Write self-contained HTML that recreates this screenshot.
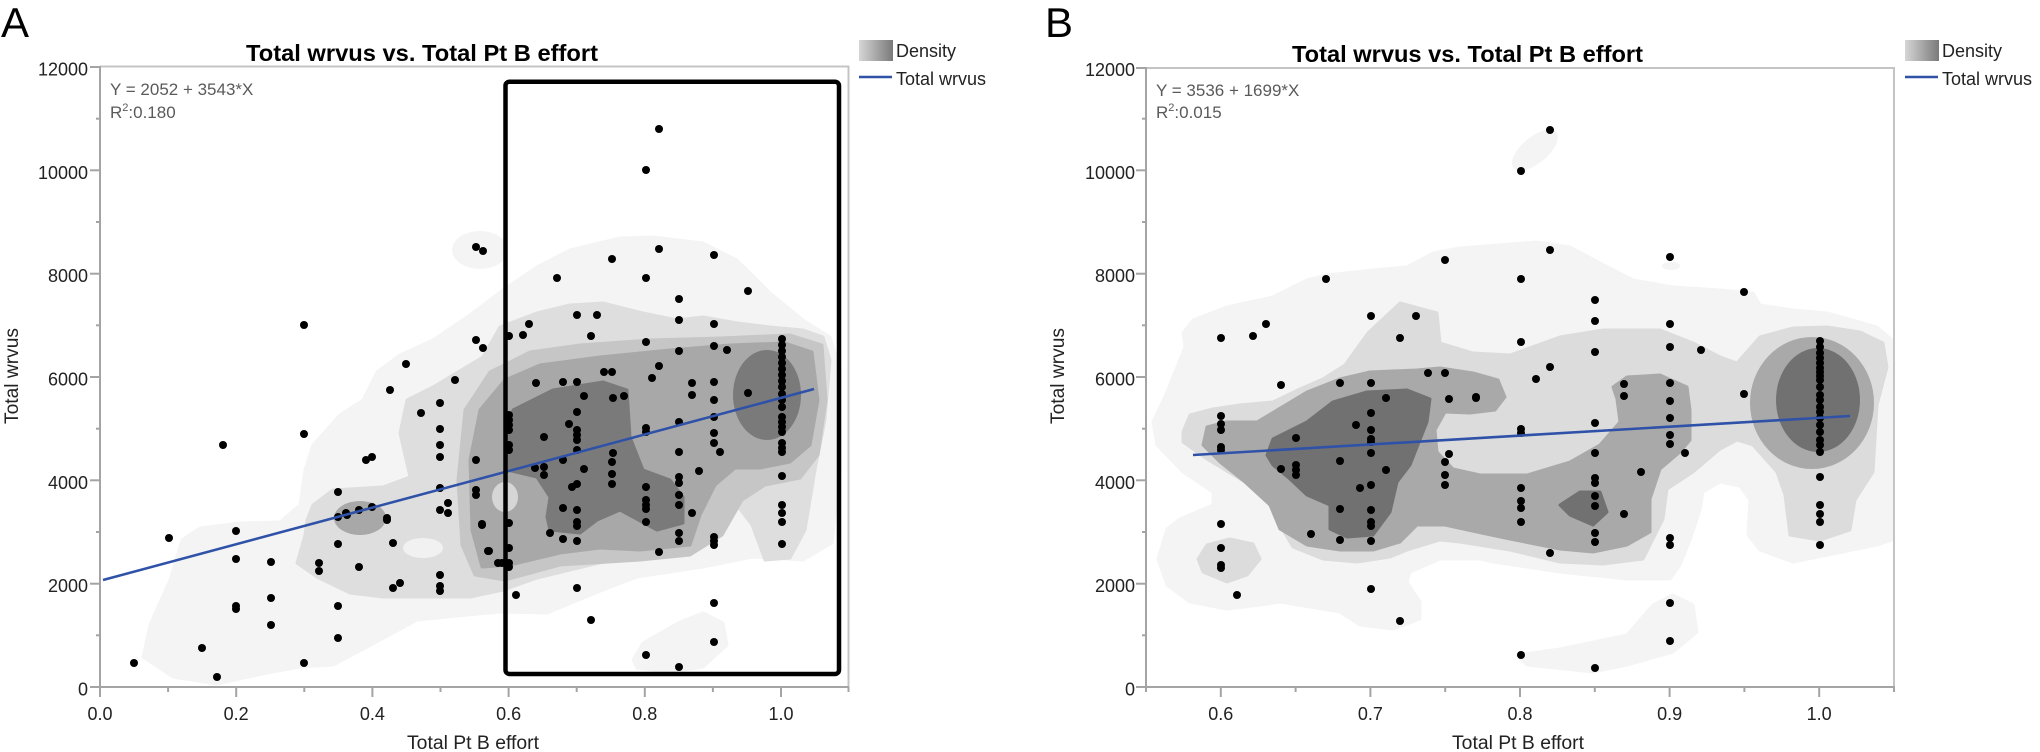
<!DOCTYPE html>
<html><head><meta charset="utf-8"><style>
html,body{margin:0;padding:0;background:#fff;}
svg{display:block;}
text{font-family:"Liberation Sans",Arial,sans-serif;}
</style></head><body>
<svg width="2040" height="752" viewBox="0 0 2040 752" xmlns="http://www.w3.org/2000/svg">
<defs>
<linearGradient id="lg" x1="0" y1="0" x2="1" y2="0"><stop offset="0" stop-color="#d6d6d6"/><stop offset="1" stop-color="#7a7a7a"/></linearGradient>
</defs>
<rect width="2040" height="752" fill="#fff"/>

<!-- ================= PANEL A ================= -->
<text x="1" y="37" font-size="42" fill="#000">A</text>
<text x="246" y="61" font-size="23" font-weight="bold" fill="#000" textLength="352" lengthAdjust="spacingAndGlyphs">Total wrvus vs. Total Pt B effort</text>

<g stroke-linejoin="round" stroke-width="3">
<polygon fill="#f4f4f4" stroke="#f4f4f4" points="143,657 150,625 170,580 182,540 200,528 240,523 280,522 300,505 305,470 313,445 340,415 363,400 377,372 400,355 433,340 470,315 503,290 537,267 570,250 620,238 653,237 703,243 737,260 770,293 803,320 830,337 840,370 840,470 832,543 803,560 753,557 703,567 637,577 603,590 547,613 500,612 467,615 417,620 367,647 333,665 300,667 267,673 217,684 173,677"/>
<ellipse cx="480" cy="250" rx="28" ry="19" fill="#f4f4f4"/>
<polygon fill="#f4f4f4" stroke="#f4f4f4" points="633,660 643,643 680,622 703,613 723,623 727,645 703,667 670,672 637,668"/>
<polygon fill="#dedede" stroke="#dedede" points="307,520 313,505 333,490 383,487 410,477 400,433 407,400 433,387 483,357 500,327 537,313 570,305 603,303 643,313 677,320 703,317 737,323 770,327 803,330 823,337 830,360 825,420 815,470 805,530 790,558 765,560 752,525 737,505 733,488 715,510 703,543 653,557 603,562 537,578 503,590 470,597 433,597 383,597 350,593 317,577 297,563 305,535"/>
<ellipse cx="423" cy="548" rx="20" ry="10" fill="#f1f1f1"/>
<polygon fill="#c6c6c6" stroke="#c6c6c6" points="465,410 490,372 530,352 580,345 650,340 720,338 790,335 822,345 826,400 818,455 800,478 765,485 742,500 722,535 690,555 640,560 560,565 505,580 475,575 462,545 458,480"/>
<polygon fill="#a8a8a8" stroke="#a8a8a8" points="480,410 505,380 540,365 600,357 670,350 730,345 785,343 812,352 818,400 810,445 790,462 760,468 735,468 715,485 700,515 690,545 640,550 600,548 560,553 510,565 482,567 472,530 470,460"/>
<ellipse cx="505" cy="497" rx="13" ry="15" fill="#d6d6d6"/>
<ellipse cx="360" cy="518" rx="26" ry="17" fill="#a8a8a8"/>
<polygon fill="#7a7a7a" stroke="#7a7a7a" points="507,437 513,410 553,390 603,382 627,390 630,437 643,470 670,480 683,497 683,523 657,530 620,510 597,520 580,533 550,530 547,517 550,497 537,477 507,470"/>
<ellipse cx="767" cy="395" rx="34" ry="45" fill="#7a7a7a"/>
</g>

<!-- A frame -->
<line x1="100" y1="66.5" x2="849" y2="66.5" stroke="#c4c4c4" stroke-width="2"/>
<line x1="848.5" y1="66" x2="848.5" y2="687" stroke="#c4c4c4" stroke-width="2"/>
<line x1="100" y1="66" x2="100" y2="688" stroke="#a4a4a4" stroke-width="2"/>
<line x1="99" y1="687" x2="849" y2="687" stroke="#a4a4a4" stroke-width="2"/>
<g stroke="#a4a4a4" stroke-width="2">
<line x1="90" y1="687" x2="100" y2="687"/><line x1="90" y1="583.7" x2="100" y2="583.7"/><line x1="90" y1="480.3" x2="100" y2="480.3"/><line x1="90" y1="377" x2="100" y2="377"/><line x1="90" y1="273.7" x2="100" y2="273.7"/><line x1="90" y1="170.3" x2="100" y2="170.3"/><line x1="90" y1="67" x2="100" y2="67"/>
<line x1="96" y1="635.3" x2="100" y2="635.3"/><line x1="96" y1="532" x2="100" y2="532"/><line x1="96" y1="428.7" x2="100" y2="428.7"/><line x1="96" y1="325.3" x2="100" y2="325.3"/><line x1="96" y1="222" x2="100" y2="222"/><line x1="96" y1="118.7" x2="100" y2="118.7"/>
<line x1="100" y1="687" x2="100" y2="697"/><line x1="236.2" y1="687" x2="236.2" y2="697"/><line x1="372.4" y1="687" x2="372.4" y2="697"/><line x1="508.6" y1="687" x2="508.6" y2="697"/><line x1="644.8" y1="687" x2="644.8" y2="697"/><line x1="781" y1="687" x2="781" y2="697"/>
<line x1="168.1" y1="687" x2="168.1" y2="692"/><line x1="304.3" y1="687" x2="304.3" y2="692"/><line x1="440.5" y1="687" x2="440.5" y2="692"/><line x1="576.7" y1="687" x2="576.7" y2="692"/><line x1="712.9" y1="687" x2="712.9" y2="692"/><line x1="848.5" y1="687" x2="848.5" y2="692"/>
</g>
<g font-size="18" fill="#222" text-anchor="end">
<text x="88" y="695.5">0</text><text x="88" y="592.2">2000</text><text x="88" y="488.8">4000</text><text x="88" y="385.5">6000</text><text x="88" y="282.2">8000</text><text x="88" y="178.8">10000</text><text x="88" y="75.5">12000</text>
</g>
<g font-size="18" fill="#222" text-anchor="middle">
<text x="100" y="720">0.0</text><text x="236.2" y="720">0.2</text><text x="372.4" y="720">0.4</text><text x="508.6" y="720">0.6</text><text x="644.8" y="720">0.8</text><text x="781" y="720">1.0</text>
</g>
<text x="473" y="749" font-size="19" fill="#222" text-anchor="middle" textLength="132" lengthAdjust="spacingAndGlyphs">Total Pt B effort</text>
<text transform="translate(18,376) rotate(-90)" font-size="19" fill="#222" text-anchor="middle" textLength="96" lengthAdjust="spacingAndGlyphs">Total wrvus</text>
<text x="110" y="95" font-size="17" fill="#5a5a5a">Y = 2052 + 3543*X</text>
<text x="110" y="118" font-size="17" fill="#5a5a5a">R<tspan font-size="11" dy="-7">2</tspan><tspan dy="7">:0.180</tspan></text>

<!-- A dots -->
<g fill="#000">
<circle cx="134" cy="663" r="4"/><circle cx="169" cy="538" r="4"/><circle cx="202" cy="648" r="4"/><circle cx="217" cy="677" r="4"/><circle cx="236" cy="531" r="4"/><circle cx="236" cy="559" r="4"/><circle cx="236" cy="606" r="4"/><circle cx="236" cy="609" r="4"/><circle cx="271" cy="562" r="4"/><circle cx="271" cy="598" r="4"/><circle cx="271" cy="625" r="4"/><circle cx="304" cy="663" r="4"/><circle cx="319" cy="563" r="4"/><circle cx="319" cy="571" r="4"/><circle cx="338" cy="544" r="4"/><circle cx="338" cy="606" r="4"/><circle cx="338" cy="638" r="4"/><circle cx="338" cy="517" r="4"/><circle cx="347" cy="515" r="4"/><circle cx="359" cy="510" r="4"/><circle cx="372" cy="507" r="4"/><circle cx="359" cy="567" r="4"/><circle cx="387" cy="520" r="4"/><circle cx="393" cy="543" r="4"/><circle cx="393" cy="588" r="4"/><circle cx="400" cy="583" r="4"/><circle cx="440" cy="510" r="4"/><circle cx="448" cy="503" r="4"/><circle cx="448" cy="513" r="4"/><circle cx="440" cy="575" r="4"/><circle cx="440" cy="586" r="4"/><circle cx="440" cy="591" r="4"/><circle cx="482" cy="525" r="4"/><circle cx="488" cy="551" r="4"/><circle cx="498" cy="563" r="4"/>
<circle cx="304" cy="325" r="4"/><circle cx="304" cy="434" r="4"/><circle cx="223" cy="445" r="4"/><circle cx="338" cy="492" r="4"/><circle cx="346" cy="513" r="4"/><circle cx="387" cy="518" r="4"/><circle cx="366" cy="460" r="4"/><circle cx="372" cy="457" r="4"/><circle cx="440" cy="403" r="4"/><circle cx="421" cy="413" r="4"/><circle cx="440" cy="429" r="4"/><circle cx="440" cy="445" r="4"/><circle cx="440" cy="457" r="4"/><circle cx="440" cy="488" r="4"/><circle cx="476" cy="460" r="4"/><circle cx="476" cy="490" r="4"/><circle cx="476" cy="495" r="4"/><circle cx="476" cy="340" r="4"/><circle cx="483" cy="348" r="4"/><circle cx="476" cy="247" r="4"/><circle cx="483" cy="251" r="4"/><circle cx="406" cy="364" r="4"/><circle cx="455" cy="380" r="4"/><circle cx="390" cy="390" r="4"/>
<circle cx="659" cy="129" r="4"/><circle cx="646" cy="170" r="4"/><circle cx="659" cy="249" r="4"/><circle cx="612" cy="259" r="4"/><circle cx="714" cy="255" r="4"/><circle cx="557" cy="278" r="4"/><circle cx="646" cy="278" r="4"/><circle cx="748" cy="291" r="4"/><circle cx="679" cy="299" r="4"/><circle cx="577" cy="315" r="4"/><circle cx="597" cy="315" r="4"/><circle cx="529" cy="324" r="4"/><circle cx="679" cy="320" r="4"/><circle cx="714" cy="324" r="4"/><circle cx="509" cy="336" r="4"/><circle cx="523" cy="335" r="4"/><circle cx="591" cy="336" r="4"/><circle cx="646" cy="342" r="4"/><circle cx="679" cy="351" r="4"/><circle cx="714" cy="346" r="4"/><circle cx="727" cy="350" r="4"/><circle cx="659" cy="366" r="4"/><circle cx="604" cy="372" r="4"/><circle cx="612" cy="372" r="4"/><circle cx="652" cy="378" r="4"/><circle cx="536" cy="383" r="4"/><circle cx="563" cy="382" r="4"/><circle cx="577" cy="382" r="4"/><circle cx="692" cy="383" r="4"/><circle cx="692" cy="395" r="4"/><circle cx="714" cy="382" r="4"/><circle cx="714" cy="400" r="4"/><circle cx="584" cy="396" r="4"/><circle cx="613" cy="398" r="4"/><circle cx="624" cy="396" r="4"/><circle cx="748" cy="393" r="4"/>
<circle cx="782" cy="339" r="4"/><circle cx="782" cy="345" r="4"/><circle cx="782" cy="351" r="4"/><circle cx="782" cy="357" r="4"/><circle cx="782" cy="363" r="4"/><circle cx="782" cy="369" r="4"/><circle cx="782" cy="375" r="4"/><circle cx="782" cy="381" r="4"/><circle cx="782" cy="387" r="4"/><circle cx="782" cy="394" r="4"/><circle cx="782" cy="400" r="4"/><circle cx="782" cy="407" r="4"/><circle cx="782" cy="417" r="4"/><circle cx="782" cy="422" r="4"/><circle cx="782" cy="427" r="4"/><circle cx="782" cy="432" r="4"/><circle cx="782" cy="443" r="4"/><circle cx="782" cy="448" r="4"/><circle cx="782" cy="452" r="4"/><circle cx="782" cy="476" r="4"/><circle cx="782" cy="505" r="4"/><circle cx="782" cy="513" r="4"/><circle cx="782" cy="522" r="4"/><circle cx="782" cy="544" r="4"/>
<circle cx="577" cy="412" r="4"/><circle cx="509" cy="415" r="4"/><circle cx="509" cy="420" r="4"/><circle cx="509" cy="425" r="4"/><circle cx="509" cy="430" r="4"/><circle cx="509" cy="445" r="4"/><circle cx="509" cy="450" r="4"/>
<circle cx="569" cy="424" r="4"/><circle cx="577" cy="430" r="4"/><circle cx="577" cy="435" r="4"/><circle cx="577" cy="440" r="4"/><circle cx="577" cy="450" r="4"/><circle cx="646" cy="428" r="4"/><circle cx="646" cy="432" r="4"/><circle cx="679" cy="422" r="4"/><circle cx="714" cy="417" r="4"/><circle cx="714" cy="433" r="4"/><circle cx="714" cy="443" r="4"/><circle cx="720" cy="452" r="4"/><circle cx="679" cy="452" r="4"/><circle cx="544" cy="437" r="4"/><circle cx="613" cy="453" r="4"/><circle cx="612" cy="462" r="4"/><circle cx="563" cy="460" r="4"/><circle cx="535" cy="468" r="4"/><circle cx="544" cy="467" r="4"/><circle cx="544" cy="475" r="4"/><circle cx="584" cy="469" r="4"/><circle cx="612" cy="474" r="4"/><circle cx="612" cy="484" r="4"/><circle cx="699" cy="471" r="4"/><circle cx="679" cy="477" r="4"/><circle cx="679" cy="483" r="4"/><circle cx="646" cy="487" r="4"/><circle cx="572" cy="487" r="4"/><circle cx="577" cy="484" r="4"/><circle cx="679" cy="495" r="4"/><circle cx="679" cy="505" r="4"/><circle cx="646" cy="500" r="4"/><circle cx="646" cy="505" r="4"/><circle cx="646" cy="509" r="4"/><circle cx="646" cy="522" r="4"/><circle cx="563" cy="508" r="4"/><circle cx="577" cy="510" r="4"/><circle cx="577" cy="522" r="4"/><circle cx="577" cy="526" r="4"/><circle cx="692" cy="513" r="4"/><circle cx="509" cy="523" r="4"/><circle cx="482" cy="524" r="4"/><circle cx="550" cy="533" r="4"/><circle cx="563" cy="539" r="4"/><circle cx="577" cy="541" r="4"/><circle cx="679" cy="533" r="4"/><circle cx="679" cy="541" r="4"/><circle cx="714" cy="537" r="4"/><circle cx="714" cy="541" r="4"/><circle cx="714" cy="545" r="4"/><circle cx="659" cy="552" r="4"/><circle cx="489" cy="551" r="4"/><circle cx="509" cy="548" r="4"/><circle cx="502" cy="563" r="4"/><circle cx="509" cy="563" r="4"/><circle cx="509" cy="567" r="4"/><circle cx="516" cy="595" r="4"/><circle cx="577" cy="588" r="4"/><circle cx="591" cy="620" r="4"/><circle cx="714" cy="603" r="4"/><circle cx="714" cy="642" r="4"/><circle cx="646" cy="655" r="4"/><circle cx="679" cy="667" r="4"/>
</g>
<line x1="103" y1="580" x2="814" y2="389" stroke="#2f52a8" stroke-width="2.6"/>
<rect x="505.5" y="81.7" width="333.5" height="592.3" rx="4" fill="none" stroke="#000" stroke-width="4.5"/>

<!-- A legend -->
<rect x="859" y="40" width="34" height="21" fill="url(#lg)"/>
<text x="896" y="57" font-size="18" fill="#222">Density</text>
<line x1="859" y1="77" x2="892" y2="77" stroke="#2f52a8" stroke-width="2.5"/>
<text x="896" y="85" font-size="18" fill="#222">Total wrvus</text>

<!-- ================= PANEL B ================= -->
<text x="1045" y="37" font-size="42" fill="#000">B</text>
<text x="1292" y="62" font-size="23" font-weight="bold" fill="#000" textLength="351" lengthAdjust="spacingAndGlyphs">Total wrvus vs. Total Pt B effort</text>

<g stroke-linejoin="round" stroke-width="3">
<polygon fill="#f4f4f4" stroke="#f4f4f4" points="1183,333 1193,320 1227,307 1273,297 1307,280 1327,275 1373,270 1407,267 1433,253 1460,248 1537,242 1570,247 1600,263 1633,280 1673,287 1720,290 1753,293 1760,305 1793,310 1827,313 1877,327 1892,340 1892,540 1877,545 1793,562 1760,550 1748,535 1750,500 1740,486 1720,482 1703,492 1700,510 1690,540 1680,565 1670,579 1627,579 1560,572 1493,562 1480,559 1440,559 1410,572 1407,582 1420,602 1420,619 1393,629 1360,625 1340,612 1280,602 1260,605 1227,609 1190,602 1167,585 1158,559 1167,529 1180,519 1213,505 1213,492 1183,472 1157,445 1153,422 1167,392 1185,347"/>
<polygon fill="#f4f4f4" stroke="#f4f4f4" points="1517,655 1560,649 1627,635 1653,605 1673,595 1693,605 1697,632 1673,652 1627,665 1593,672 1527,665"/>
<ellipse cx="1535" cy="150" rx="28" ry="13" transform="rotate(-40 1535 150)" fill="#f4f4f4"/>
<ellipse cx="1671" cy="266" rx="9" ry="4" fill="#f4f4f4"/>
<polygon fill="#dcdcdc" stroke="#dcdcdc" points="1183,432 1190,415 1213,409 1240,405 1273,402 1300,389 1323,379 1345,365 1368,333 1400,303 1437,313 1440,343 1473,353 1510,355 1560,337 1603,330 1660,330 1693,343 1720,357 1737,363 1760,337 1793,328 1827,327 1860,332 1883,343 1887,367 1877,405 1873,472 1855,500 1850,530 1820,540 1790,535 1785,495 1777,472 1753,445 1737,440 1720,449 1693,472 1667,489 1663,519 1643,559 1603,564 1560,562 1510,550 1460,542 1440,540 1407,550 1390,557 1357,562 1323,559 1293,547 1280,525 1273,499 1240,479 1207,459 1183,442"/>
<polygon fill="#dcdcdc" stroke="#dcdcdc" points="1198,559 1207,545 1230,539 1253,544 1260,559 1247,575 1227,582 1203,572"/>
<polygon fill="#a9a9a9" stroke="#a9a9a9" points="1203,445 1207,427 1227,422 1257,422 1307,392 1340,379 1370,372 1417,370 1440,368 1473,373 1498,380 1505,397 1495,410 1470,413 1445,412 1435,430 1437,452 1453,469 1480,475 1527,475 1570,462 1600,445 1620,422 1617,399 1613,387 1627,377 1660,375 1687,387 1690,410 1690,440 1680,452 1660,469 1650,499 1650,532 1627,545 1593,552 1560,549 1510,539 1477,532 1445,525 1417,525 1400,542 1373,550 1340,550 1307,545 1280,529 1270,505 1245,482 1220,462"/>
<ellipse cx="1812" cy="403" rx="62" ry="66" fill="#a9a9a9"/>
<polygon fill="#717171" stroke="#717171" points="1267,455 1273,439 1307,422 1333,402 1367,392 1407,390 1430,399 1427,422 1410,465 1397,482 1390,512 1373,535 1347,537 1330,529 1330,505 1307,495 1290,479 1273,465"/>
<polygon fill="#717171" stroke="#717171" points="1560,505 1580,492 1600,492 1607,512 1593,525 1570,515"/>
<ellipse cx="1818" cy="400" rx="42" ry="52" fill="#717171"/>
</g>

<!-- B frame -->
<line x1="1146" y1="68" x2="1895" y2="68" stroke="#c4c4c4" stroke-width="2"/>
<line x1="1894" y1="68" x2="1894" y2="687" stroke="#c4c4c4" stroke-width="2"/>
<line x1="1146" y1="67" x2="1146" y2="688" stroke="#a4a4a4" stroke-width="2"/>
<line x1="1145" y1="687" x2="1895" y2="687" stroke="#a4a4a4" stroke-width="2"/>
<g stroke="#a4a4a4" stroke-width="2">
<line x1="1136" y1="687" x2="1146" y2="687"/><line x1="1136" y1="583.7" x2="1146" y2="583.7"/><line x1="1136" y1="480.3" x2="1146" y2="480.3"/><line x1="1136" y1="377" x2="1146" y2="377"/><line x1="1136" y1="273.7" x2="1146" y2="273.7"/><line x1="1136" y1="170.3" x2="1146" y2="170.3"/><line x1="1136" y1="68" x2="1146" y2="68"/>
<line x1="1142" y1="635.3" x2="1146" y2="635.3"/><line x1="1142" y1="532" x2="1146" y2="532"/><line x1="1142" y1="428.7" x2="1146" y2="428.7"/><line x1="1142" y1="325.3" x2="1146" y2="325.3"/><line x1="1142" y1="222" x2="1146" y2="222"/><line x1="1142" y1="118.7" x2="1146" y2="118.7"/>
<line x1="1220.8" y1="687" x2="1220.8" y2="697"/><line x1="1370.4" y1="687" x2="1370.4" y2="697"/><line x1="1520" y1="687" x2="1520" y2="697"/><line x1="1669.6" y1="687" x2="1669.6" y2="697"/><line x1="1819.2" y1="687" x2="1819.2" y2="697"/>
<line x1="1146" y1="687" x2="1146" y2="692"/><line x1="1295.6" y1="687" x2="1295.6" y2="692"/><line x1="1445.2" y1="687" x2="1445.2" y2="692"/><line x1="1594.8" y1="687" x2="1594.8" y2="692"/><line x1="1744.4" y1="687" x2="1744.4" y2="692"/><line x1="1894" y1="687" x2="1894" y2="692"/>
</g>
<g font-size="18" fill="#222" text-anchor="end">
<text x="1135" y="695.5">0</text><text x="1135" y="592.2">2000</text><text x="1135" y="488.8">4000</text><text x="1135" y="385.5">6000</text><text x="1135" y="282.2">8000</text><text x="1135" y="178.8">10000</text><text x="1135" y="76">12000</text>
</g>
<g font-size="18" fill="#222" text-anchor="middle">
<text x="1220.8" y="720">0.6</text><text x="1370.4" y="720">0.7</text><text x="1520" y="720">0.8</text><text x="1669.6" y="720">0.9</text><text x="1819.2" y="720">1.0</text>
</g>
<text x="1518" y="749" font-size="19" fill="#222" text-anchor="middle" textLength="132" lengthAdjust="spacingAndGlyphs">Total Pt B effort</text>
<text transform="translate(1064,376) rotate(-90)" font-size="19" fill="#222" text-anchor="middle" textLength="96" lengthAdjust="spacingAndGlyphs">Total wrvus</text>
<text x="1156" y="96" font-size="17" fill="#5a5a5a">Y = 3536 + 1699*X</text>
<text x="1156" y="118" font-size="17" fill="#5a5a5a">R<tspan font-size="11" dy="-7">2</tspan><tspan dy="7">:0.015</tspan></text>

<!-- B dots -->
<g fill="#000">
<circle cx="1326" cy="279" r="4"/><circle cx="1445" cy="260" r="4"/><circle cx="1221" cy="338" r="4"/><circle cx="1253" cy="336" r="4"/><circle cx="1266" cy="324" r="4"/><circle cx="1371" cy="316" r="4"/><circle cx="1416" cy="316" r="4"/><circle cx="1400" cy="338" r="4"/><circle cx="1428" cy="373" r="4"/><circle cx="1445" cy="373" r="4"/>
<circle cx="1281" cy="385" r="4"/><circle cx="1340" cy="383" r="4"/><circle cx="1371" cy="383" r="4"/><circle cx="1386" cy="398" r="4"/><circle cx="1449" cy="399" r="4"/><circle cx="1476" cy="398" r="4"/>
<circle cx="1221" cy="416" r="4"/><circle cx="1221" cy="424" r="4"/><circle cx="1221" cy="430" r="4"/><circle cx="1221" cy="447" r="4"/><circle cx="1221" cy="450" r="4"/>
<circle cx="1296" cy="438" r="4"/><circle cx="1356" cy="425" r="4"/><circle cx="1371" cy="413" r="4"/><circle cx="1371" cy="430" r="4"/><circle cx="1371" cy="439" r="4"/><circle cx="1371" cy="442" r="4"/><circle cx="1371" cy="453" r="4"/><circle cx="1340" cy="461" r="4"/><circle cx="1281" cy="469" r="4"/><circle cx="1296" cy="465" r="4"/><circle cx="1296" cy="470" r="4"/><circle cx="1296" cy="475" r="4"/><circle cx="1386" cy="470" r="4"/><circle cx="1449" cy="454" r="4"/><circle cx="1445" cy="462" r="4"/><circle cx="1445" cy="475" r="4"/><circle cx="1445" cy="485" r="4"/><circle cx="1360" cy="488" r="4"/><circle cx="1371" cy="485" r="4"/><circle cx="1340" cy="509" r="4"/><circle cx="1371" cy="510" r="4"/><circle cx="1371" cy="522" r="4"/><circle cx="1371" cy="526" r="4"/><circle cx="1221" cy="524" r="4"/><circle cx="1311" cy="534" r="4"/><circle cx="1340" cy="540" r="4"/><circle cx="1371" cy="541" r="4"/><circle cx="1221" cy="548" r="4"/><circle cx="1221" cy="565" r="4"/><circle cx="1221" cy="568" r="4"/><circle cx="1237" cy="595" r="4"/><circle cx="1371" cy="589" r="4"/><circle cx="1400" cy="621" r="4"/>
<circle cx="1550" cy="130" r="4"/><circle cx="1521" cy="171" r="4"/><circle cx="1550" cy="250" r="4"/><circle cx="1670" cy="257" r="4"/><circle cx="1521" cy="279" r="4"/><circle cx="1595" cy="300" r="4"/><circle cx="1595" cy="321" r="4"/><circle cx="1670" cy="324" r="4"/><circle cx="1744" cy="292" r="4"/><circle cx="1521" cy="342" r="4"/><circle cx="1595" cy="352" r="4"/><circle cx="1670" cy="347" r="4"/><circle cx="1701" cy="350" r="4"/><circle cx="1550" cy="367" r="4"/><circle cx="1536" cy="379" r="4"/><circle cx="1476" cy="397" r="4"/><circle cx="1624" cy="384" r="4"/><circle cx="1624" cy="396" r="4"/><circle cx="1670" cy="383" r="4"/><circle cx="1670" cy="401" r="4"/><circle cx="1670" cy="418" r="4"/><circle cx="1670" cy="435" r="4"/><circle cx="1670" cy="444" r="4"/><circle cx="1744" cy="394" r="4"/><circle cx="1595" cy="423" r="4"/><circle cx="1521" cy="429" r="4"/><circle cx="1521" cy="433" r="4"/><circle cx="1595" cy="453" r="4"/><circle cx="1685" cy="453" r="4"/><circle cx="1641" cy="472" r="4"/><circle cx="1595" cy="478" r="4"/><circle cx="1595" cy="483" r="4"/><circle cx="1521" cy="488" r="4"/><circle cx="1521" cy="501" r="4"/><circle cx="1521" cy="508" r="4"/><circle cx="1521" cy="522" r="4"/><circle cx="1595" cy="496" r="4"/><circle cx="1595" cy="506" r="4"/><circle cx="1624" cy="514" r="4"/><circle cx="1595" cy="533" r="4"/><circle cx="1595" cy="542" r="4"/><circle cx="1670" cy="538" r="4"/><circle cx="1670" cy="545" r="4"/><circle cx="1550" cy="553" r="4"/><circle cx="1670" cy="603" r="4"/><circle cx="1670" cy="641" r="4"/><circle cx="1521" cy="655" r="4"/><circle cx="1595" cy="668" r="4"/>
<circle cx="1820" cy="341" r="4"/><circle cx="1820" cy="347" r="4"/><circle cx="1820" cy="353" r="4"/><circle cx="1820" cy="358" r="4"/><circle cx="1820" cy="363" r="4"/><circle cx="1820" cy="368" r="4"/><circle cx="1820" cy="372" r="4"/><circle cx="1820" cy="376" r="4"/><circle cx="1820" cy="380" r="4"/><circle cx="1820" cy="387" r="4"/><circle cx="1820" cy="395" r="4"/><circle cx="1820" cy="400" r="4"/><circle cx="1820" cy="407" r="4"/><circle cx="1820" cy="412" r="4"/><circle cx="1820" cy="418" r="4"/><circle cx="1820" cy="425" r="4"/><circle cx="1820" cy="432" r="4"/><circle cx="1820" cy="440" r="4"/><circle cx="1820" cy="445" r="4"/><circle cx="1820" cy="452" r="4"/><circle cx="1820" cy="477" r="4"/><circle cx="1820" cy="505" r="4"/><circle cx="1820" cy="514" r="4"/><circle cx="1820" cy="522" r="4"/><circle cx="1820" cy="545" r="4"/>
</g>
<line x1="1193" y1="455" x2="1850" y2="416" stroke="#2f52a8" stroke-width="2.6"/>

<!-- B legend -->
<rect x="1905" y="40" width="34" height="21" fill="url(#lg)"/>
<text x="1942" y="57" font-size="18" fill="#222">Density</text>
<line x1="1905" y1="77" x2="1938" y2="77" stroke="#2f52a8" stroke-width="2.5"/>
<text x="1942" y="85" font-size="18" fill="#222">Total wrvus</text>
</svg>
</body></html>
